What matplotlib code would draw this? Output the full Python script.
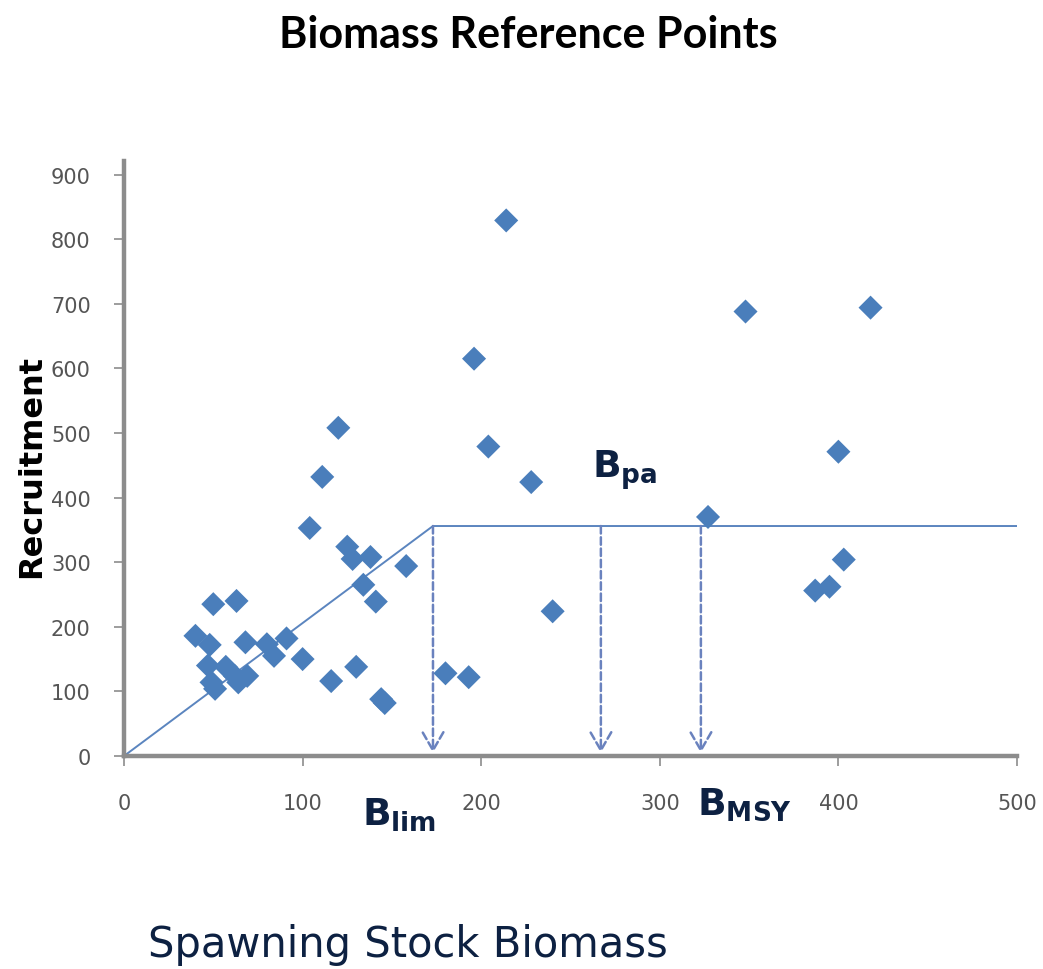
import matplotlib
matplotlib.use("Agg")
import matplotlib.pyplot as plt

# ---- data ----
ssb = [40, 48, 50, 63, 68, 80, 84, 91, 100, 47, 57, 49, 51, 62, 69, 64,
       104, 111, 120, 125, 128, 138, 158, 134, 141, 116, 130, 144, 146,
       180, 193, 228, 240, 196, 204, 214, 327, 348, 418, 400, 403, 387, 395]
recruitment = [186, 172, 235, 240, 176, 173, 155, 182, 150, 140, 138, 114, 104, 124, 124, 114,
               353, 432, 508, 324, 305, 308, 294, 265, 239, 116, 138, 88, 82,
               128, 122, 424, 224, 615, 479, 829, 370, 688, 694, 471, 304, 256, 262]

hockey_x = [0, 173, 500]
hockey_y = [0, 356, 356]

ref_names = ["lim", "pa", "MSY"]
ref_x = [173, 267, 323]
plateau = 356

x_ticks = [0, 100, 200, 300, 400, 500]
y_ticks = [0, 100, 200, 300, 400, 500, 600, 700, 800, 900]

# ---- figure ----
W, H = 1043, 970
fig = plt.figure(figsize=(W / 100, H / 100), dpi=100)
ax = fig.add_axes([124 / W, 1 - 757 / H, (1017 - 124) / W, (757 - 162) / H])

blue = "#4A7EBB"
navy = "#0D2142"
grey = "#8C8C8C"

ax.plot(hockey_x, hockey_y, color="#5B85BF", lw=1.4, zorder=2)
ax.scatter(ssb, recruitment, marker="D", s=150, color=blue, edgecolor="none", zorder=3)

for rx in ref_x:
    ax.annotate("", xy=(rx, 5), xytext=(rx, plateau),
                arrowprops=dict(arrowstyle="->,head_length=1.3,head_width=0.75",
                                color="#6A82BE", lw=1.8, linestyle=(0, (3, 1.5)),
                                shrinkA=0, shrinkB=0), zorder=2)

ax.set_xlim(0, 500)
ax.set_ylim(0, 921)
ax.set_xticks(x_ticks)
ax.set_yticks(y_ticks)
ax.tick_params(axis="both", colors=grey, length=7, width=1.2, labelsize=15,
               labelcolor="#555555", direction="out")
ax.tick_params(axis="x", pad=20)
ax.tick_params(axis="y", pad=17)
for s in ["top", "right"]:
    ax.spines[s].set_visible(False)
for s in ["left", "bottom"]:
    ax.spines[s].set_color(grey)
    ax.spines[s].set_linewidth(3.2)

# titles / labels
fig.text(528 / W, 1 - 35 / H, "Biomass Reference Points", ha="center", va="center",
         fontsize=31, fontweight="bold", family="Lato", color="black")
fig.text(32 / W, 1 - 467 / H, "Recruitment", ha="center", va="center", rotation=90,
         fontsize=23, fontweight="bold", color="black")
fig.text(148 / W, 1 - 945 / H, "Spawning Stock Biomass", ha="left", va="center",
         fontsize=30, color=navy, family="DejaVu Sans")

# reference point labels
label_pos = [(362, 815), (592, 470), (697, 805)]
for name, (px, py) in zip(ref_names, label_pos):
    fig.text(px / W, 1 - py / H, r"$\mathbf{B}_{\mathbf{%s}}$" % name, ha="left", va="center",
             fontsize=27, color=navy)

fig.savefig("out.png", dpi=100)
